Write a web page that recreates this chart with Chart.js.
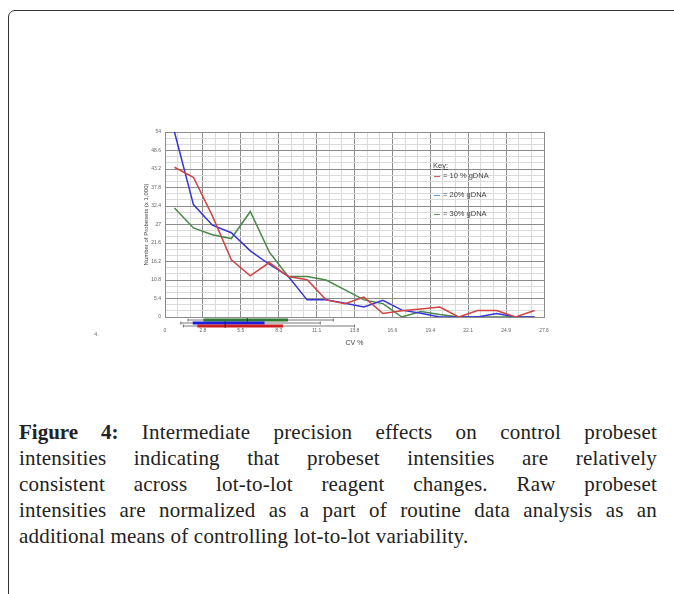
<!DOCTYPE html>
<html>
<head>
<meta charset="utf-8">
<script src="https://cdn.jsdelivr.net/npm/chart.js@4.4.1/dist/chart.umd.min.js"></script>
<style>
html, body { margin: 0; padding: 0; background: #fff; width: 674px; height: 594px; overflow: hidden; }
#frame { position: absolute; left: 8px; top: 10px; width: 720px; height: 640px; border: 1.5px solid #333; border-radius: 7px; }
#wrap { position: absolute; left: 0; top: 0; width: 674px; height: 400px; }
.key { position: absolute; font-family: "Liberation Sans", Arial, sans-serif; font-size: 7.5px; color: #444; white-space: nowrap; line-height: 8px; }
.key span.dash { display: inline-block; width: 6px; height: 0; border-top: 1.5px solid; vertical-align: middle; margin-right: 3px; }
#fig { position: absolute; left: 94px; top: 331px; font-family: "Liberation Sans", Arial, sans-serif; font-size: 6px; color: #777; }
#caption { position: absolute; left: 19px; top: 419px; width: 638px; font-family: "Liberation Serif", "Times New Roman", serif; font-size: 21px; letter-spacing: 0.2px; line-height: 26px; color: #222; }
#caption div { text-align: justify; text-align-last: justify; white-space: nowrap; }
#caption div.last { text-align-last: left; }
#caption b { font-weight: bold; letter-spacing: 0; }
</style>
</head>
<body>
<div id="frame"></div>
<div id="wrap"><canvas id="cvChart" width="674" height="400"></canvas></div>
<div class="key" style="left:433px; top:162px; text-decoration:underline;">Key:</div>
<div class="key" style="left:434px; top:172px;"><span class="dash" style="border-color:#e05a5a"></span>= 10 % gDNA</div>
<div class="key" style="left:434px; top:191px;"><span class="dash" style="border-color:#4f9fe0"></span>= 20% gDNA</div>
<div class="key" style="left:434px; top:210px;"><span class="dash" style="border-color:#6a9a6a"></span>= 30% gDNA</div>
<div id="fig">4.</div>
<div id="caption">
<div><b>Figure 4:</b> Intermediate precision effects on control probeset</div>
<div>intensities indicating that probeset intensities are relatively</div>
<div>consistent across lot-to-lot reagent changes. Raw probeset</div>
<div>intensities are normalized as a part of routine data analysis as an</div>
<div class="last">additional means of controlling lot-to-lot variability.</div>
</div>

<script>
// CV % bin centres (x) and probeset counts (x 1,000) per series
const cvBins = [0.69, 2.07, 3.45, 4.83, 6.21, 7.59, 8.97, 10.35, 11.73, 13.11, 14.49, 15.87, 17.25, 18.63, 20.01, 21.39, 22.77, 24.15, 25.53, 26.91];
const gdna10 = [43.7, 40.8, 29.5, 16.7, 12.0, 15.9, 11.8, 10.9, 5.0, 3.9, 5.8, 1.0, 1.8, 2.3, 2.9, 0, 1.9, 1.9, 0, 1.9];
const gdna20 = [54, 32.8, 26.8, 24.6, 19.3, 15.4, 11.9, 5.0, 5.0, 4.0, 2.9, 4.9, 2.0, 1.1, 0, 0, 0, 1.0, 0, 0];
const gdna30 = [31.8, 26.0, 24.0, 22.9, 30.8, 19.0, 11.8, 11.8, 10.8, 7.9, 5.0, 3.9, 0, 1.6, 0.7, 0, 0, 0, 0, 0];

// box summaries under the axis: [whisker low, q1, median, q3, whisker high]
const box30 = [1.68, 2.8, 6.0, 8.96, 12.26];
const box20 = [1.15, 2.02, 4.38, 7.25, 11.31];
const box10 = [1.34, 2.36, 4.38, 8.59, 13.8];

// tick labels
const xTickLabels = ['0', '2.8', '5.5', '8.3', '11.1', '13.8', '16.6', '19.4', '22.1', '24.9', '27.6'];
const yTickLabels = ['0', '5.4', '10.8', '16.2', '21.6', '27', '32.4', '37.8', '43.2', '48.6', '54'];

const X_MAX = 27.6, Y_MAX = 54;
const SUB = 3; // minor divisions per major

function toPoints(vals) {
  return vals.map((v, i) => ({ x: cvBins[i], y: v }));
}

function gridTicks(max, majors) {
  const n = majors * SUB;
  const out = [];
  for (let i = 0; i <= n; i++) out.push({ value: max * i / n });
  return out;
}

// draws the three box summaries just below the plot
const boxPlugin = {
  id: 'boxes',
  afterDraw(chart) {
    const ctx = chart.ctx;
    const xs = chart.scales.x;
    const base = chart.chartArea.bottom;
    const rows = [
      { s: box30, y: base + 2.5, color: '#2f7a2f' },
      { s: box20, y: base + 5.5, color: '#1c1ce0' },
      { s: box10, y: base + 8.5, color: '#cc1f1f' }
    ];
    ctx.save();
    rows.forEach(r => {
      const p = r.s.map(v => xs.getPixelForValue(v));
      ctx.strokeStyle = '#555';
      ctx.lineWidth = 0.8;
      ctx.beginPath();
      ctx.moveTo(p[0], r.y + 0.5); ctx.lineTo(p[4], r.y + 0.5);
      ctx.moveTo(p[0], r.y - 1); ctx.lineTo(p[0], r.y + 2);
      ctx.moveTo(p[4], r.y - 1); ctx.lineTo(p[4], r.y + 2);
      ctx.stroke();
      ctx.fillStyle = r.color;
      ctx.fillRect(p[1], r.y - 1, p[3] - p[1], 3);
      ctx.strokeStyle = '#222';
      ctx.beginPath();
      ctx.moveTo(p[2], r.y - 1.5); ctx.lineTo(p[2], r.y + 2.5);
      ctx.stroke();
    });
    ctx.restore();
  }
};

const tickFont = { family: '"Liberation Sans", Arial, sans-serif', size: 5 };

new Chart(document.getElementById('cvChart').getContext('2d'), {
  type: 'line',
  data: {
    datasets: [
      { label: '10 % gDNA', data: toPoints(gdna10), borderColor: '#d04444', borderWidth: 1.5 },
      { label: '20% gDNA', data: toPoints(gdna20), borderColor: '#3535d8', borderWidth: 1.5 },
      { label: '30% gDNA', data: toPoints(gdna30), borderColor: '#4a874a', borderWidth: 1.5 }
    ]
  },
  options: {
    responsive: false,
    animation: false,
    events: [],
    elements: { point: { radius: 0 }, line: { tension: 0 } },
    layout: { padding: { left: 140, top: 132, right: 130, bottom: 48 } },
    plugins: { legend: { display: false }, tooltip: { enabled: false } },
    scales: {
      x: {
        type: 'linear', min: 0, max: X_MAX,
        afterBuildTicks: s => { s.ticks = gridTicks(X_MAX, 10); },
        afterFit: s => { s.height = 35; },
        grid: {
          drawTicks: false,
          color: c => (c.index % SUB === 0 ? '#8c8c8c' : '#dadada'),
          lineWidth: 1
        },
        border: { color: '#8c8c8c' },
        ticks: {
          padding: 11, maxRotation: 0, autoSkip: false, color: '#666', font: tickFont,
          callback: (v, i) => (i % SUB === 0 ? xTickLabels[i / SUB] : '')
        },
        title: { display: true, text: 'CV %', color: '#444', padding: { top: 0, bottom: 5 },
          font: { family: '"Liberation Sans", Arial, sans-serif', size: 7 } }
      },
      y: {
        type: 'linear', min: 0, max: Y_MAX,
        afterBuildTicks: s => { s.ticks = gridTicks(Y_MAX, 10); },
        afterFit: s => { s.width = 25; },
        grid: {
          drawTicks: false,
          color: c => (c.index % SUB === 0 ? '#8c8c8c' : '#dadada'),
          lineWidth: 1
        },
        border: { color: '#8c8c8c' },
        ticks: {
          padding: 4, autoSkip: false, color: '#666', font: tickFont,
          callback: (v, i) => (i % SUB === 0 ? yTickLabels[i / SUB] : '')
        },
        title: { display: true, text: 'Number of Probesets (x 1,000)', color: '#444', padding: { top: 3, bottom: 0 },
          font: { family: '"Liberation Sans", Arial, sans-serif', size: 6 } }
      }
    }
  },
  plugins: [boxPlugin]
});
</script>
</body>
</html>
